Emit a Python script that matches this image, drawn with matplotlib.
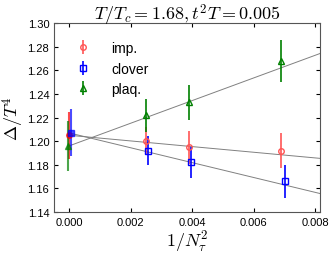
import matplotlib
matplotlib.use('Agg')
import matplotlib.pyplot as plt

plt.rcParams['font.family'] = ['Liberation Sans', 'DejaVu Sans']
plt.rcParams['mathtext.fontset'] = 'cm'

# lattice points 1/N_tau^2
x_lat = [0.0025, 0.0039, 0.0069]
imp_y = [1.200, 1.195, 1.192]
imp_e = [0.012, 0.014, 0.015]
clv_x = [0.00255, 0.00395, 0.00703]
clv_y = [1.192, 1.182, 1.166]
clv_e = [0.012, 0.013, 0.014]
plq_y = [1.222, 1.233, 1.268]
plq_e = [0.014, 0.015, 0.018]

# continuum extrapolations
cont_x = [0.0, 0.00005, -0.00005]
cont_y = [1.205, 1.207, 1.196]
cont_e = [0.020, 0.020, 0.021]
slopes = [-2.4, -6.3, 9.6]

fig, ax = plt.subplots(figsize=(3.32, 2.55), dpi=100)

xf = [0.0, 0.0082]
for y0, s in zip(cont_y, slopes):
    ax.plot(xf, [y0 + s * v for v in xf], color='gray', lw=0.7, zorder=1)

ax.errorbar(x_lat, imp_y, yerr=imp_e, fmt='o', mfc='none', mec='#ff5555',
            ecolor='#ff5555', ms=4, lw=1.2, label='imp.', zorder=3)
ax.errorbar(clv_x, clv_y, yerr=clv_e, fmt='s', mfc='none', mec='blue',
            ecolor='blue', ms=4, lw=1.2, label='clover', zorder=3)
ax.errorbar(x_lat, plq_y, yerr=plq_e, fmt='^', mfc='none', mec='green',
            ecolor='green', ms=4, lw=1.2, label='plaq.', zorder=3)

cols = ['red', 'blue', 'green']
marks = ['o', 's', '^']
for i in range(3):
    ax.errorbar(cont_x[i], cont_y[i], yerr=cont_e[i], fmt=marks[i],
                color=cols[i], ms=4, lw=1.5, alpha=0.7, zorder=2)

ax.set_xlim(-0.00049, 0.00816)
ax.set_ylim(1.14, 1.30)
ax.set_xticks([0.0, 0.002, 0.004, 0.006, 0.008])
ax.set_xticklabels(['0.000', '0.002', '0.004', '0.006', '0.008'])
ax.set_yticks([1.14, 1.16, 1.18, 1.20, 1.22, 1.24, 1.26, 1.28, 1.30])
ax.set_yticklabels(['%.2f' % v for v in ax.get_yticks()])
ax.tick_params(direction='in', top=True, right=True, labelsize=8, length=3)
for sp in ax.spines.values():
    sp.set_color('#555555')

ax.set_xlabel(r'$1/N_\tau^2$', fontsize=13, labelpad=1)
ax.set_ylabel(r'$\Delta/T^4$', fontsize=13, labelpad=1)
ax.set_title(r'$T/T_c = 1.68, t^2T = 0.005$', fontsize=13, pad=3)

ax.legend(loc='upper left', frameon=False, fontsize=10, handletextpad=1.2,
          borderaxespad=0.9, labelspacing=0.45, handlelength=1.6)

fig.subplots_adjust(left=0.163, right=0.964, top=0.905, bottom=0.165)
fig.savefig('out.png', dpi=100)
